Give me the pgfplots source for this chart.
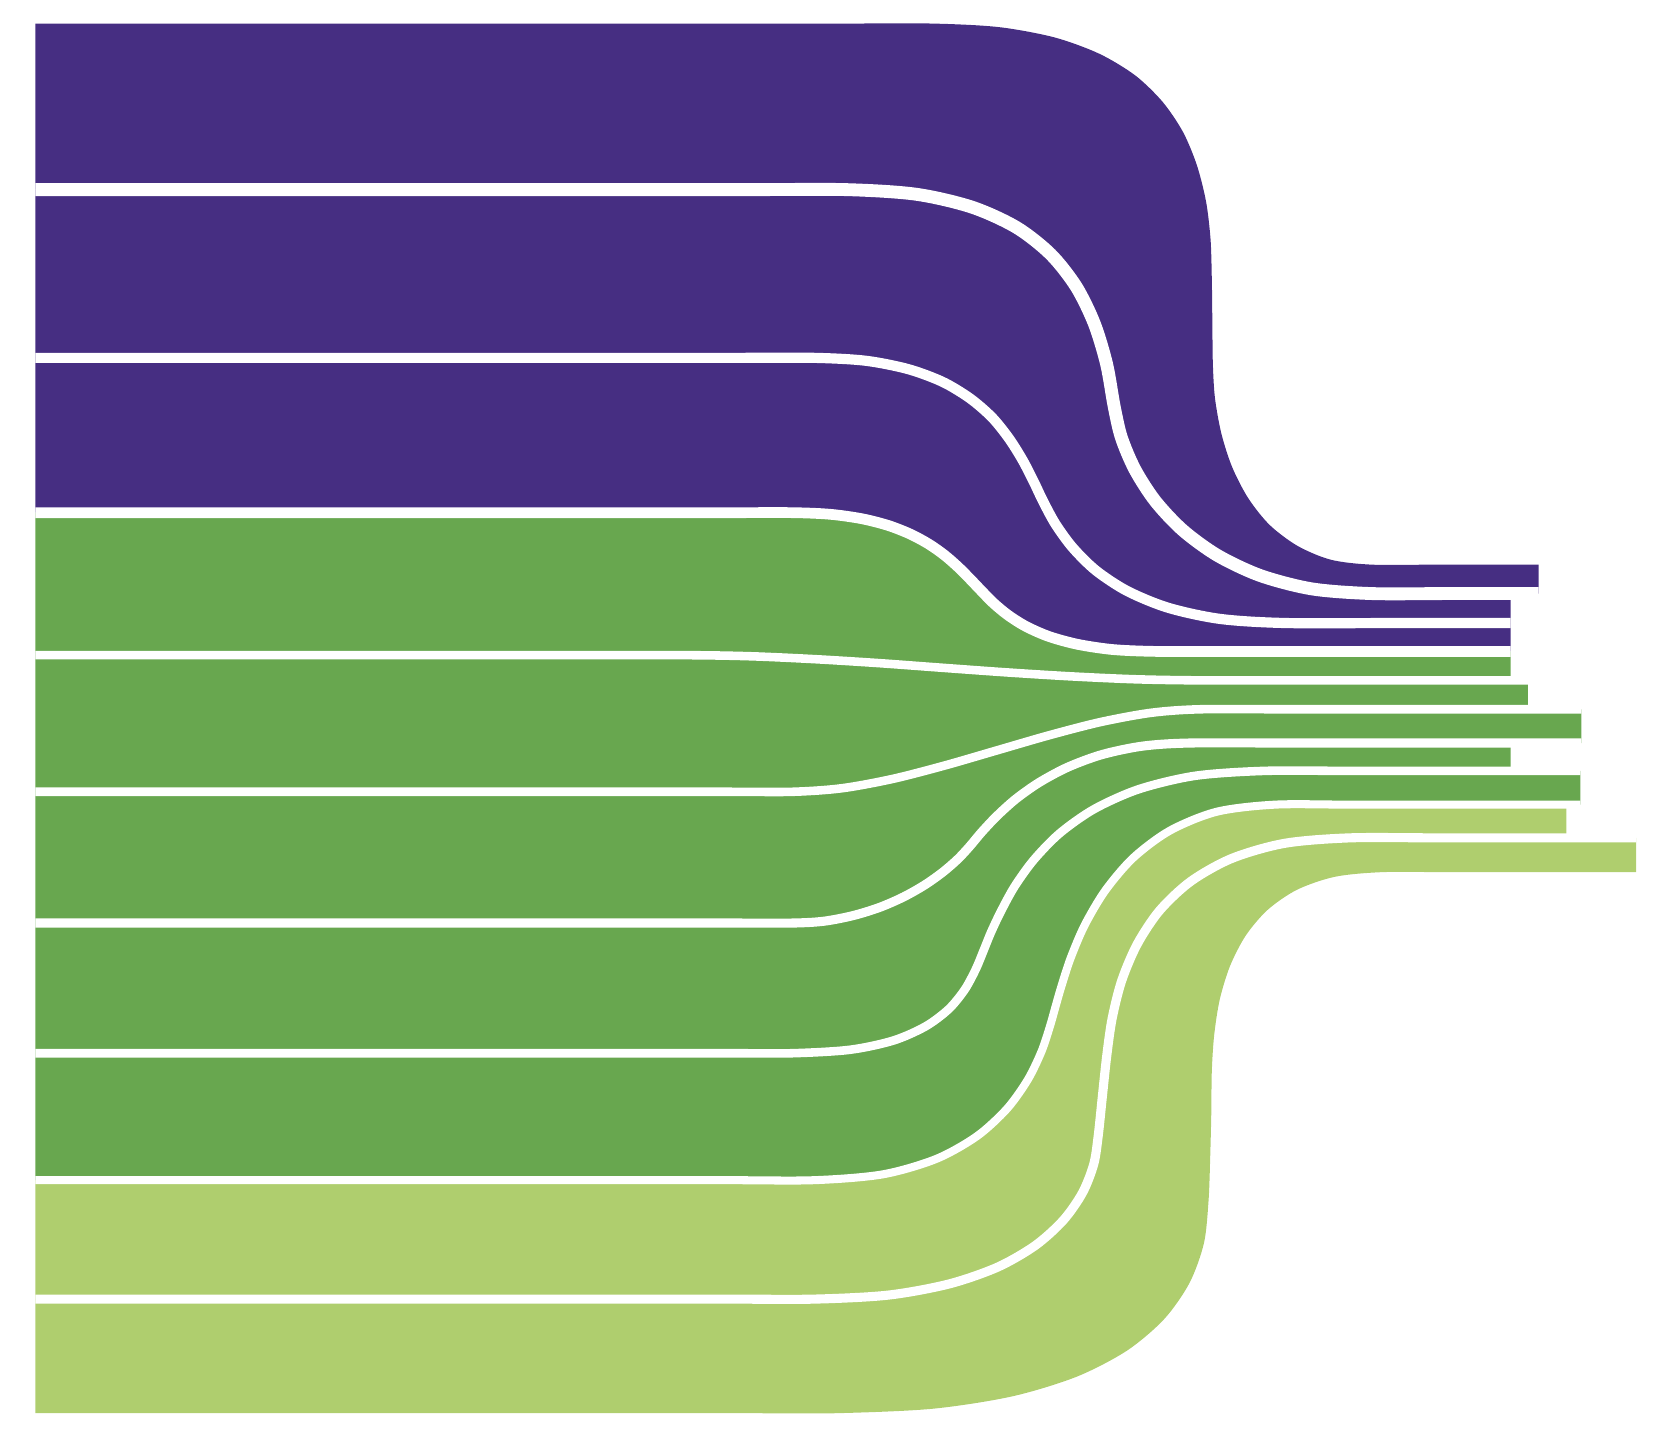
\documentclass[border=0pt]{standalone}
\usepackage{pgfplots}
\pgfplotsset{compat=1.18}
\usepackage{pgfplotstable}
\usepgfplotslibrary{fillbetween}

\definecolor{purp}{HTML}{462E82}
\definecolor{grn}{HTML}{68A74F}
\definecolor{lgrn}{HTML}{AFCE6E}

% outer top edge of the first band
\pgfplotstableread{
x y
33 22
200 22
380 22
560 22
700 22
790 22
870 22
932 25.3
984 34.9
1026 50.2
1059.5 70.4
1085 95
1104 123
1117 154
1125.6 188
1129.8 223
1131 260
1131.5 300
1132 340
1134 372
1140 405
1150 436
1165 465
1185 490
1211 509.5
1242 522.4
1280 527
1340 527
1390 527
1436 527
}\Tzero

% gap centre lines, top to bottom
\pgfplotstableread{
x y
33 177
200 177
380 177
560 177
700 177
790 177
855 181.3
907 193.3
948.6 212.2
980.6 237.3
1004.4 267.5
1021.3 301.9
1032.8 339.8
1040 380
1046.7 408.7
1059.3 438.3
1078.2 467.6
1103.8 494.8
1136.3 518.4
1176.3 537.2
1224.2 549.6
1280 554
1350 554
1436 554
}\Cone

\pgfplotstableread{
x y
33 334
200 334
380 334
560 334
690 334
760 334
807.9 336.7
847.5 344.5
879.7 356.4
905.3 371.8
925.8 389.5
941.7 409.2
954.5 429.6
965 450
973.9 468.6
985.4 489.6
1001.4 511.4
1023 532.6
1052.2 551.7
1090.4 567.3
1139 577.7
1200 581.5
1300 581.5
1410 581.5
}\Ctwo

\pgfplotstableread{
x y
33 478.5
200 478.5
380 478.5
560 478.5
680 478.5
740 478.5
774.7 480
804.1 484.1
828.9 490.4
849.6 498.5
867 507.9
881.6 518.2
894.1 529.1
905 540
915.6 551.1
927.1 562.8
940.9 574.2
957.8 584.8
979.1 594.1
1005.9 601.4
1039.1 606.3
1080 608
1150 608
1250 608
1410 608
}\Cthree

\pgfplotstableread{
x y
33 611.5
200 611.5
380 611.5
520 611.5
640 611.5
700 612.5
760 615.2
820 618.9
880 623.3
940 627.6
1000 631.3
1060 634
1120 635
1220 635
1320 635
1426 635
}\Cfour

\pgfplotstableread{
x y
33 739
200 739
380 739
560 739
680 739
740 739
785.8 735.7
833.1 727
881.3 714.6
930 700.5
978.7 686.4
1026.8 674
1074.2 665.3
1120 662
1200 662
1300 662
1400 662
1476 662
}\Cfive

\pgfplotstableread{
x y
33 861.5
200 861.5
380 861.5
560 861.5
680 861.5
740 861.5
769 859.8
796 854.6
820.7 847
843 837.3
862.7 826.2
879.7 814.2
893.9 801.9
905 790
916 776.9
930.1 761.9
948 745.8
970.1 730.2
996.9 715.9
1028.8 704.2
1066.3 696.4
1110 693.5
1200 693.5
1300 693.5
1400 693.5
1476 693.5
}\Csix

\pgfplotstableread{
x y
33 983
200 983
380 983
560 983
680 983
740 983
793.2 979.8
833.7 971.2
863.8 958
885.4 941.9
900.3 923.8
910.6 904.9
918.2 886.7
925 870
934.3 850.4
947 827.3
964.9 802.5
989.1 777.7
1021.3 755.1
1062.9 736.6
1115.4 724.1
1180 719.5
1260 719.5
1360 719.5
1475 719.5
}\Cseven

\pgfplotstableread{
x y
33 1101.5
200 1101.5
380 1101.5
560 1101.5
680 1101.5
760 1101.5
823.7 1096.1
873.7 1081.7
911.7 1060.5
939.6 1035.1
959.1 1008
972 981.5
979.9 958
985 940
990.5 920.9
999.2 894.3
1012.4 863.4
1031.6 831.1
1057.7 800.6
1092 775.2
1135.7 757.6
1190 751
1260 751
1360 751
1475 751
}\Ceight

\pgfplotstableread{
x y
33 1212.5
200 1212.5
380 1212.5
560 1212.5
680 1212.5
760 1212.5
828.7 1208.8
885.2 1198.5
930.8 1182.8
966.2 1162.5
992.4 1138.9
1010.3 1113.3
1020.8 1086.6
1025 1060
1029 1022
1033 985
1038 950.5
1046.9 915.3
1061.4 881.2
1082.4 849.7
1111.5 822.5
1149.9 801.1
1199 787.1
1260 782
1340 782
1430 782
1527 782
}\Cnine

% outer bottom edge of the last band
\pgfplotstableread{
x y
33 1319
200 1319
380 1319
560 1319
700 1319
780 1319
869.6 1314.9
944.1 1303.4
1004.4 1285.1
1051.5 1260.8
1086.4 1231.3
1110.2 1197.4
1123.7 1160.1
1128 1120
1129.5 1080
1130.5 1040
1131 1000
1133.2 966.2
1138.4 932.9
1148 901.6
1162.6 873.3
1183.1 849.2
1210.6 830.4
1246 818.3
1290 814
1350 814
1430 814
1527 814
}\Bot

\begin{document}
\begin{tikzpicture}
\begin{axis}[
    width=15.68cm, height=13.45cm, scale only axis,
    xmin=0, xmax=1568, ymin=0, ymax=1345,
    y dir=reverse, hide axis,
]
% paths
\addplot[draw=none, smooth, name path=t0] table {\Tzero};
\addplot[draw=none, smooth, name path=c1] table {\Cone};
\addplot[draw=none, smooth, name path=c2] table {\Ctwo};
\addplot[draw=none, smooth, name path=c3] table {\Cthree};
\addplot[draw=none, smooth, name path=c4] table {\Cfour};
\addplot[draw=none, smooth, name path=c5] table {\Cfive};
\addplot[draw=none, smooth, name path=c6] table {\Csix};
\addplot[draw=none, smooth, name path=c7] table {\Cseven};
\addplot[draw=none, smooth, name path=c8] table {\Ceight};
\addplot[draw=none, smooth, name path=c9] table {\Cnine};
\addplot[draw=none, smooth, name path=bt] table {\Bot};

% bands
\addplot[fill=purp, draw=none] fill between[of=t0 and c1];
\addplot[fill=purp, draw=none] fill between[of=c1 and c2, soft clip={domain=0:1410}];
\addplot[fill=purp, draw=none] fill between[of=c2 and c3];
\addplot[fill=grn, draw=none] fill between[of=c3 and c4, soft clip={domain=0:1410}];
\addplot[fill=grn, draw=none] fill between[of=c4 and c5, soft clip={domain=0:1426}];
\addplot[fill=grn, draw=none] fill between[of=c5 and c6];
\addplot[fill=grn, draw=none] fill between[of=c6 and c7, soft clip={domain=0:1410}];
\addplot[fill=grn, draw=none] fill between[of=c7 and c8];
\addplot[fill=lgrn, draw=none] fill between[of=c8 and c9, soft clip={domain=0:1462}];
\addplot[fill=lgrn, draw=none] fill between[of=c9 and bt];

% white gaps between the bands
\addplot[white, smooth, line width=1.2mm] table {\Cone};
\addplot[white, smooth, line width=0.95mm] table {\Ctwo};
\addplot[white, smooth, line width=1.0mm] table {\Cthree};
\addplot[white, smooth, line width=0.8mm] table {\Cfour};
\addplot[white, smooth, line width=0.8mm] table {\Cfive};
\addplot[white, smooth, line width=0.85mm] table {\Csix};
\addplot[white, smooth, line width=0.8mm] table {\Cseven};
\addplot[white, smooth, line width=0.75mm] table {\Ceight};
\addplot[white, smooth, line width=0.85mm] table {\Cnine};

\path (rel axis cs:0,0) rectangle (rel axis cs:1,1);
\end{axis}
\end{tikzpicture}
\end{document}
